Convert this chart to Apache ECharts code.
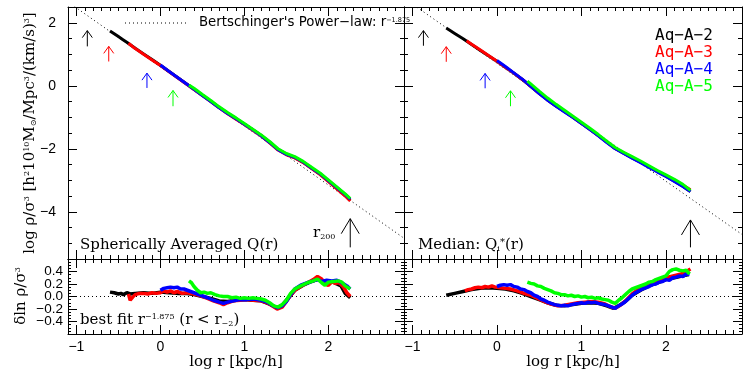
<!DOCTYPE html>
<html><head><meta charset="utf-8">
<script src="https://cdn.jsdelivr.net/npm/echarts@6/dist/echarts.min.js"></script>
<style>html,body{margin:0;padding:0;background:#fff}#c{width:750px;height:375px}</style>
</head><body><div id="c"></div>
<script>
// ---------------- data ----------------
const xTickValues = [-1, 0, 1, 2];
const yTopTickValues = [-4, -2, 0, 2];
const yBotTickValues = [-0.4, -0.2, 0.0, 0.2, 0.4];
const seriesNames = ['Aq-A-2', 'Aq-A-3', 'Aq-A-4', 'Aq-A-5'];
const seriesColors = ['#000000', '#ff0000', '#0000ff', '#00ff00'];

// power law r^-1.875 reference lines (endpoints)
const powerLawSph = [[-1.1, 2.66], [2.9, -4.84]];
const powerLawMed = [[-1.1, 2.78], [2.9, -4.72]];
const zeroLine = [[-1.1, 0], [2.9, 0]];

// Spherically averaged Q(r), top-left
const sphQ_A2 = [[-0.6,1.74],[-0.55,1.65],[-0.5,1.56],[-0.45,1.47],[-0.4,1.38],[-0.3,1.19],[-0.2,1.01],[-0.1,0.83],[0,0.65],[0.1,0.46],[0.2,0.27],[0.3,0.08],[0.4,-0.11],[0.5,-0.30],[0.6,-0.49],[0.7,-0.69],[0.8,-0.87],[0.9,-1.04],[1.0,-1.22],[1.1,-1.40],[1.2,-1.58],[1.3,-1.79],[1.4,-2.02],[1.5,-2.17],[1.6,-2.28],[1.7,-2.43],[1.8,-2.62],[1.9,-2.80],[2.0,-3.02],[2.1,-3.25],[2.2,-3.48],[2.26,-3.64]];
const sphQ_A3 = [[-0.38,1.35],[-0.36,1.30],[-0.3,1.18],[-0.2,1.00],[-0.1,0.82],[0,0.64],[0.1,0.45],[0.2,0.26],[0.3,0.07],[0.4,-0.12],[0.5,-0.31],[0.6,-0.50],[0.7,-0.70],[0.8,-0.89],[0.9,-1.06],[1.0,-1.23],[1.1,-1.41],[1.2,-1.60],[1.3,-1.81],[1.4,-2.04],[1.5,-2.19],[1.6,-2.29],[1.7,-2.44],[1.8,-2.63],[1.9,-2.82],[2.0,-3.04],[2.1,-3.27],[2.2,-3.50],[2.26,-3.66]];
const sphQ_A4 = [[0,0.66],[0.1,0.46],[0.2,0.27],[0.3,0.08],[0.4,-0.11],[0.5,-0.31],[0.6,-0.50],[0.7,-0.70],[0.8,-0.88],[0.9,-1.05],[1.0,-1.22],[1.1,-1.40],[1.2,-1.59],[1.3,-1.80],[1.4,-2.03],[1.5,-2.18],[1.6,-2.27],[1.7,-2.42],[1.8,-2.61],[1.9,-2.79],[2.0,-3.01],[2.1,-3.23],[2.2,-3.45],[2.26,-3.60]];
const sphQ_A5 = [[0.34,0.02],[0.4,-0.08],[0.5,-0.28],[0.6,-0.47],[0.7,-0.67],[0.8,-0.85],[0.9,-1.02],[1.0,-1.20],[1.1,-1.38],[1.2,-1.56],[1.3,-1.77],[1.4,-2.00],[1.5,-2.15],[1.6,-2.25],[1.7,-2.40],[1.8,-2.59],[1.9,-2.77],[2.0,-2.99],[2.1,-3.21],[2.2,-3.43],[2.26,-3.58]];

// residuals vs best fit, bottom-left
const sphRes_A2 = [[-0.6,0.07],[-0.55,0.06],[-0.5,0.04],[-0.47,0.05],[-0.44,0.03],[-0.4,0.06],[-0.36,0.04],[-0.3,0.05],[-0.2,0.06],[-0.1,0.05],[0,0.07],[0.1,0.06],[0.2,0.05],[0.3,0.05],[0.4,0.03],[0.5,0.0],[0.6,-0.03],[0.7,-0.07],[0.8,-0.08],[0.9,-0.06],[1.0,-0.05],[1.1,-0.06],[1.2,-0.07],[1.3,-0.12],[1.38,-0.18],[1.45,-0.14],[1.5,-0.06],[1.6,0.10],[1.7,0.18],[1.8,0.24],[1.88,0.28],[1.95,0.22],[2.0,0.20],[2.05,0.24],[2.1,0.20],[2.15,0.17],[2.2,0.05],[2.26,-0.02]];
const sphRes_A3 = [[-0.38,0.04],[-0.36,-0.06],[-0.33,-0.01],[-0.3,0.03],[-0.25,0.05],[-0.2,0.05],[-0.15,0.04],[-0.1,0.06],[-0.05,0.05],[0,0.06],[0.04,0.09],[0.08,0.07],[0.12,0.09],[0.16,0.06],[0.2,0.08],[0.26,0.05],[0.32,0.06],[0.4,0.04],[0.48,0.01],[0.56,-0.03],[0.63,-0.07],[0.7,-0.10],[0.75,-0.13],[0.8,-0.10],[0.87,-0.07],[0.95,-0.06],[1.03,-0.05],[1.11,-0.06],[1.2,-0.07],[1.27,-0.10],[1.33,-0.15],[1.39,-0.20],[1.45,-0.17],[1.5,-0.08],[1.55,0.02],[1.6,0.10],[1.67,0.16],[1.75,0.22],[1.82,0.27],[1.87,0.32],[1.92,0.28],[1.96,0.20],[2.0,0.18],[2.04,0.24],[2.08,0.21],[2.13,0.22],[2.18,0.15],[2.22,0.06],[2.26,0.0]];
const sphRes_A4 = [[0,0.10],[0.04,0.13],[0.08,0.14],[0.12,0.15],[0.16,0.14],[0.2,0.15],[0.24,0.12],[0.28,0.12],[0.32,0.10],[0.4,0.06],[0.48,0.02],[0.56,-0.02],[0.63,-0.06],[0.7,-0.09],[0.75,-0.11],[0.8,-0.09],[0.87,-0.07],[0.95,-0.05],[1.03,-0.05],[1.11,-0.04],[1.2,-0.06],[1.27,-0.09],[1.33,-0.14],[1.39,-0.18],[1.45,-0.15],[1.5,-0.08],[1.55,0.03],[1.6,0.12],[1.67,0.18],[1.75,0.22],[1.82,0.25],[1.87,0.27],[1.92,0.24],[1.98,0.26],[2.04,0.25],[2.1,0.26],[2.16,0.22],[2.22,0.17],[2.26,0.12]];
const sphRes_A5 = [[0.34,0.25],[0.37,0.22],[0.4,0.16],[0.44,0.10],[0.48,0.06],[0.52,0.07],[0.56,0.05],[0.6,0.06],[0.65,0.03],[0.7,0.01],[0.75,0.0],[0.8,0.0],[0.85,-0.02],[0.9,-0.01],[0.95,-0.03],[1.0,-0.02],[1.05,-0.03],[1.1,-0.02],[1.15,-0.03],[1.2,-0.04],[1.25,-0.06],[1.3,-0.10],[1.35,-0.15],[1.4,-0.17],[1.45,-0.13],[1.5,-0.06],[1.55,0.05],[1.6,0.12],[1.67,0.17],[1.75,0.22],[1.82,0.25],[1.87,0.28],[1.92,0.22],[1.96,0.18],[2.0,0.23],[2.06,0.24],[2.12,0.25],[2.16,0.23],[2.2,0.17],[2.26,0.12]];

// Median Q_i^*(r), top-right
const medQ_A2 = [[-0.6,1.83],[-0.5,1.66],[-0.4,1.49],[-0.3,1.31],[-0.2,1.13],[-0.1,0.95],[0,0.78],[0.1,0.59],[0.2,0.40],[0.3,0.20],[0.4,-0.02],[0.5,-0.24],[0.6,-0.45],[0.7,-0.64],[0.8,-0.82],[0.9,-1.0],[1.0,-1.19],[1.1,-1.38],[1.2,-1.58],[1.3,-1.79],[1.4,-1.99],[1.5,-2.14],[1.6,-2.29],[1.7,-2.43],[1.8,-2.58],[1.9,-2.73],[2.0,-2.87],[2.1,-3.03],[2.2,-3.19],[2.29,-3.36]];
const medQ_A3 = [[-0.36,1.43],[-0.3,1.32],[-0.2,1.14],[-0.1,0.96],[0,0.78],[0.1,0.59],[0.2,0.40],[0.3,0.20],[0.4,-0.02],[0.5,-0.24],[0.6,-0.45],[0.7,-0.64],[0.8,-0.82],[0.9,-1.0],[1.0,-1.19],[1.1,-1.38],[1.2,-1.58],[1.3,-1.79],[1.4,-1.99],[1.5,-2.13],[1.6,-2.28],[1.7,-2.42],[1.8,-2.57],[1.9,-2.71],[2.0,-2.85],[2.1,-3.0],[2.2,-3.15],[2.29,-3.30]];
const medQ_A4 = [[0,0.80],[0.1,0.61],[0.2,0.41],[0.3,0.21],[0.4,-0.02],[0.5,-0.25],[0.6,-0.46],[0.7,-0.65],[0.8,-0.83],[0.9,-1.01],[1.0,-1.20],[1.1,-1.39],[1.2,-1.59],[1.3,-1.80],[1.4,-2.00],[1.5,-2.15],[1.6,-2.30],[1.7,-2.44],[1.8,-2.59],[1.9,-2.74],[2.0,-2.88],[2.1,-3.04],[2.2,-3.20],[2.29,-3.36]];
const medQ_A5 = [[0.36,0.15],[0.4,0.06],[0.5,-0.17],[0.6,-0.39],[0.7,-0.59],[0.8,-0.78],[0.9,-0.97],[1.0,-1.16],[1.1,-1.35],[1.2,-1.55],[1.3,-1.76],[1.4,-1.96],[1.5,-2.11],[1.6,-2.25],[1.7,-2.39],[1.8,-2.54],[1.9,-2.69],[2.0,-2.83],[2.1,-2.97],[2.2,-3.13],[2.29,-3.32]];

// residuals, bottom-right
const medRes_A2 = [[-0.6,0.02],[-0.5,0.05],[-0.4,0.08],[-0.3,0.11],[-0.2,0.13],[-0.1,0.14],[0,0.13],[0.1,0.12],[0.2,0.09],[0.3,0.05],[0.4,0.0],[0.5,-0.05],[0.6,-0.10],[0.7,-0.14],[0.8,-0.15],[0.9,-0.13],[1.0,-0.11],[1.1,-0.10],[1.2,-0.11],[1.3,-0.15],[1.38,-0.19],[1.45,-0.14],[1.52,-0.08],[1.6,0.02],[1.7,0.10],[1.8,0.17],[1.9,0.22],[2.0,0.27],[2.1,0.30],[2.2,0.33],[2.27,0.35]];
const medRes_A3 = [[-0.38,0.09],[-0.34,0.11],[-0.3,0.12],[-0.26,0.14],[-0.22,0.15],[-0.18,0.14],[-0.14,0.16],[-0.1,0.15],[-0.06,0.17],[-0.02,0.15],[0.04,0.14],[0.1,0.13],[0.16,0.12],[0.24,0.09],[0.32,0.05],[0.4,0.02],[0.48,-0.03],[0.56,-0.08],[0.64,-0.12],[0.72,-0.15],[0.8,-0.14],[0.88,-0.12],[0.96,-0.10],[1.04,-0.09],[1.12,-0.08],[1.2,-0.09],[1.28,-0.12],[1.34,-0.16],[1.4,-0.19],[1.46,-0.14],[1.52,-0.07],[1.6,0.04],[1.68,0.12],[1.76,0.18],[1.84,0.22],[1.92,0.25],[2.0,0.30],[2.06,0.32],[2.12,0.34],[2.18,0.36],[2.24,0.40],[2.29,0.44]];
const medRes_A4 = [[0,0.16],[0.04,0.18],[0.08,0.19],[0.12,0.18],[0.16,0.19],[0.2,0.16],[0.24,0.15],[0.28,0.12],[0.32,0.11],[0.36,0.08],[0.4,0.06],[0.44,0.02],[0.48,0.0],[0.52,-0.04],[0.56,-0.06],[0.6,-0.09],[0.64,-0.11],[0.68,-0.13],[0.72,-0.14],[0.76,-0.15],[0.8,-0.14],[0.84,-0.15],[0.88,-0.13],[0.92,-0.12],[0.96,-0.11],[1.0,-0.10],[1.04,-0.11],[1.08,-0.09],[1.12,-0.10],[1.16,-0.09],[1.2,-0.11],[1.24,-0.12],[1.28,-0.13],[1.32,-0.15],[1.36,-0.17],[1.4,-0.19],[1.44,-0.15],[1.48,-0.12],[1.52,-0.08],[1.56,-0.03],[1.6,0.02],[1.64,0.06],[1.68,0.09],[1.72,0.12],[1.76,0.14],[1.8,0.16],[1.84,0.19],[1.88,0.20],[1.92,0.23],[1.96,0.24],[2.0,0.27],[2.04,0.26],[2.08,0.30],[2.12,0.31],[2.16,0.33],[2.2,0.32],[2.24,0.36],[2.28,0.35]];
const medRes_A5 = [[0.36,0.23],[0.4,0.21],[0.44,0.20],[0.48,0.17],[0.52,0.16],[0.56,0.13],[0.6,0.11],[0.64,0.09],[0.68,0.06],[0.72,0.05],[0.76,0.03],[0.8,0.03],[0.84,0.01],[0.88,0.02],[0.92,0.0],[0.96,0.01],[1.0,-0.01],[1.04,0.0],[1.08,-0.02],[1.12,-0.01],[1.16,-0.03],[1.2,-0.02],[1.24,-0.04],[1.28,-0.05],[1.32,-0.06],[1.36,-0.09],[1.4,-0.11],[1.44,-0.06],[1.48,-0.02],[1.52,0.03],[1.56,0.08],[1.6,0.12],[1.64,0.14],[1.68,0.16],[1.72,0.18],[1.76,0.20],[1.8,0.23],[1.84,0.24],[1.88,0.27],[1.92,0.29],[1.96,0.31],[2.0,0.33],[2.04,0.40],[2.08,0.43],[2.12,0.44],[2.16,0.42],[2.2,0.41],[2.24,0.42],[2.28,0.36]];

// convergence-radius arrows: [x, yTail, yHead]
const arrowsSph = [[-0.87,1.25,1.75],[-0.615,0.77,1.25],[-0.16,-0.07,0.40],[0.15,-0.65,-0.15]];
const arrowsMed = [[-0.87,1.27,1.75],[-0.60,0.76,1.24],[-0.14,-0.08,0.39],[0.16,-0.65,-0.16]];
// r200 arrows
const r200Sph = [[2.26,-5.13,-4.22]];
const r200Med = [[2.29,-5.13,-4.26]];

// ---------------- chart ----------------
const chart = echarts.init(document.getElementById('c'));
const MINUS = '\u2212';
const fmtInt = v => (v < 0 ? MINUS + Math.abs(v) : String(v));
const fmtDec = v => (v < -1e-9 ? MINUS + Math.abs(v).toFixed(1) : Math.abs(v).toFixed(1));
const tickFont = { fontFamily: 'Liberation Sans', fontSize: 14, color: '#000', hideOverlap: false, interval: 0, showMinLabel: true, showMaxLabel: true };

const grids = [
  { left: 68, top: 7, width: 336, height: 252 },
  { left: 68, top: 259, width: 336, height: 75 },
  { left: 404, top: 7, width: 338, height: 252 },
  { left: 404, top: 259, width: 338, height: 75 }
];
const xAxes = [], yAxes = [];
const line = { show: true, onZero: false, lineStyle: { color: '#000', width: 1 } };
function addX(o) { xAxes.push(Object.assign({ type: 'value', min: -1.1, max: 2.9, splitLine: { show: false }, axisLabel: { show: false }, axisLine: line }, o)); return xAxes.length - 1; }
function addY(o) { yAxes.push(Object.assign({ type: 'value', splitLine: { show: false }, axisLabel: { show: false }, axisLine: line }, o)); return yAxes.length - 1; }

const mainX = [], mainY = [];
for (let g = 0; g < 4; g++) {
  const isTop = (g % 2 === 0);
  const isLeft = g < 2;
  mainX[g] = addX({ gridIndex: g, position: 'bottom', interval: 0.1, axisTick: { inside: true, length: 4, lineStyle: { color: '#000' } } });
  addX({ gridIndex: g, position: 'top', interval: 0.1, axisTick: { inside: true, length: 4, lineStyle: { color: '#000' } } });
  addX({ gridIndex: g, position: 'bottom', axisLine: { show: false, onZero: false }, axisTick: { inside: true, length: 9, customValues: xTickValues, lineStyle: { color: '#000' } },
    axisLabel: isTop ? { show: false } : Object.assign({ show: true, customValues: xTickValues, formatter: fmtInt, margin: 6 }, tickFont) });
  addX({ gridIndex: g, position: 'top', axisLine: { show: false, onZero: false }, axisTick: { inside: true, length: 9, customValues: xTickValues, lineStyle: { color: '#000' } } });
  const yr = isTop ? { min: -5.5, max: 2.5, interval: 0.5 } : { min: -0.6, max: 0.6, interval: 0.05 };
  const majors = isTop ? yTopTickValues : yBotTickValues;
  const minorLen = isTop ? 4 : 3;
  mainY[g] = addY(Object.assign({ gridIndex: g, position: 'left', axisTick: { inside: true, length: minorLen, lineStyle: { color: '#000' } } }, yr));
  addY(Object.assign({ gridIndex: g, position: 'right', axisTick: { inside: true, length: minorLen, lineStyle: { color: '#000' } } }, yr));
  addY({ gridIndex: g, position: 'left', min: yr.min, max: yr.max, axisLine: { show: false, onZero: false }, axisTick: { inside: true, length: 9, customValues: majors, lineStyle: { color: '#000' } },
    axisLabel: (isLeft && isTop) ? Object.assign({ show: true, customValues: majors, formatter: fmtInt, margin: 12 }, tickFont) : { show: false } });
  addY({ gridIndex: g, position: 'right', min: yr.min, max: yr.max, axisLine: { show: false, onZero: false }, axisTick: { inside: true, length: 9, customValues: majors, lineStyle: { color: '#000' } } });
  if (isLeft && !isTop) {
    // labels split over two label-only axes (alternating values) so none get dropped for overlap
    [majors.filter((v, i) => i % 2 === 0), majors.filter((v, i) => i % 2 === 1)].forEach(vals => {
      addY({ gridIndex: g, position: 'left', min: yr.min, max: yr.max, axisLine: { show: false, onZero: false }, axisTick: { show: false },
        axisLabel: Object.assign({ show: true, customValues: vals, formatter: fmtDec, margin: 5 }, tickFont, { fontSize: 13.5 }) });
    });
  }
}

const series = [];
function dataLine(g, data, color, w) {
  series.push({ type: 'line', xAxisIndex: mainX[g], yAxisIndex: mainY[g], data: data, symbol: 'none', silent: true,
    lineStyle: { color: color, width: w }, z: 3 });
}
function dotted(g, data) {
  series.push({ type: 'line', xAxisIndex: mainX[g], yAxisIndex: mainY[g], data: data, symbol: 'none', silent: true,
    lineStyle: { color: '#000', width: 1, type: [1, 3] }, z: 2 });
}
function arrows(g, data, colors, hw, hl) {
  series.push({ type: 'custom', xAxisIndex: mainX[g], yAxisIndex: mainY[g], silent: true, z: 4,
    encode: { x: 0, y: [1, 2] },
    data: data.map((d, i) => ({ value: d, itemStyle: { color: colors[i] } })),
    renderItem: function (params, api) {
      const p0 = api.coord([api.value(0), api.value(1)]);
      const p1 = api.coord([api.value(0), api.value(2)]);
      const c = api.visual('color');
      return { type: 'group', children: [
        { type: 'line', shape: { x1: p0[0], y1: p0[1], x2: p1[0], y2: p1[1] }, style: { stroke: c, lineWidth: 1 } },
        { type: 'polyline', shape: { points: [[p1[0] - hw, p1[1] + hl], [p1[0], p1[1]], [p1[0] + hw, p1[1] + hl]] }, style: { stroke: c, fill: null, lineWidth: 1 } }
      ] };
    }
  });
}

dotted(0, powerLawSph);
[sphQ_A2, sphQ_A3, sphQ_A4, sphQ_A5].forEach((d, i) => dataLine(0, d, seriesColors[i], 3));
arrows(0, arrowsSph, seriesColors, 5, 7);
arrows(0, r200Sph, ['#000'], 9, 15);

dotted(1, zeroLine);
[sphRes_A2, sphRes_A3, sphRes_A4, sphRes_A5].forEach((d, i) => dataLine(1, d, seriesColors[i], 3.5));

dotted(2, powerLawMed);
[medQ_A2, medQ_A3, medQ_A4, medQ_A5].forEach((d, i) => dataLine(2, d, seriesColors[i], 3));
arrows(2, arrowsMed, seriesColors, 5, 7);
arrows(2, r200Med, ['#000'], 9, 15);

dotted(3, zeroLine);
[medRes_A2, medRes_A3, medRes_A4, medRes_A5].forEach((d, i) => dataLine(3, d, seriesColors[i], 3.5));

const serif = 'DejaVu Serif';
const supS = { fontSize: 8, fontFamily: serif, verticalAlign: 'top', lineHeight: 8 };
const subS = { fontSize: 8, fontFamily: serif, verticalAlign: 'bottom', lineHeight: 8 };
function txt(x, y, text, o) {
  return { type: 'text', x: x, y: y, silent: true, z: 10,
    style: Object.assign({ text: text, fill: '#000', fontFamily: serif, fontSize: 15, textAlign: 'left', textVerticalAlign: 'middle' }, o) };
}

const graphic = [
  Object.assign(txt(30, 133, 'log \u03c1/\u03c3{s|3} [h{s|2}10{s|10}M{b|\u2299}/Mpc{s|3}/(km/s){s|3}]', { textAlign: 'center', fontSize: 15, rich: { s: supS, b: subS } }), { rotation: Math.PI / 2 }),
  Object.assign(txt(21, 296, '\u03b4ln \u03c1/\u03c3{s|3}', { textAlign: 'center', fontSize: 15, rich: { s: supS } }), { rotation: Math.PI / 2 }),
  txt(236, 362, 'log r [kpc/h]', { textAlign: 'center', fontSize: 15 }),
  txt(573, 362, 'log r [kpc/h]', { textAlign: 'center', fontSize: 15 }),
  txt(80, 245, 'Spherically Averaged Q(r)', { fontSize: 15 }),
  txt(418, 245, 'Median: Q{b|i}{s|*}(r)', { fontSize: 15, rich: { s: { fontSize: 10, fontFamily: serif, verticalAlign: 'top', lineHeight: 10 }, b: subS } }),
  txt(80, 320, 'best fit r{s|\u22121.875} (r < r{b|\u22122})', { fontSize: 15, rich: { s: supS, b: subS } }),
  txt(313, 233, 'r{b|200}', { fontSize: 15, rich: { b: subS } }),
  { type: 'line', silent: true, shape: { x1: 125, y1: 23, x2: 189, y2: 23 }, style: { stroke: '#000', lineWidth: 1, lineDash: [1, 3] } },
  txt(199, 23, "Bertschinger's Power\u2212law: r{s|\u22121.875}", { fontFamily: 'DejaVu Sans', fontSize: 13.3, rich: { s: { fontSize: 6.5, fontFamily: 'DejaVu Sans', verticalAlign: 'top', lineHeight: 8 } } })
];
seriesNames.forEach((n, i) => {
  graphic.push(txt(655, 36 + i * 17, n.replace(/-/g, '\u2212'), { fontFamily: 'DejaVu Sans Mono', fontSize: 16, fill: seriesColors[i] }));
});

chart.setOption({
  animation: false,
  backgroundColor: '#fff',
  grid: grids,
  xAxis: xAxes,
  yAxis: yAxes,
  series: series,
  graphic: graphic
});
</script></body></html>
